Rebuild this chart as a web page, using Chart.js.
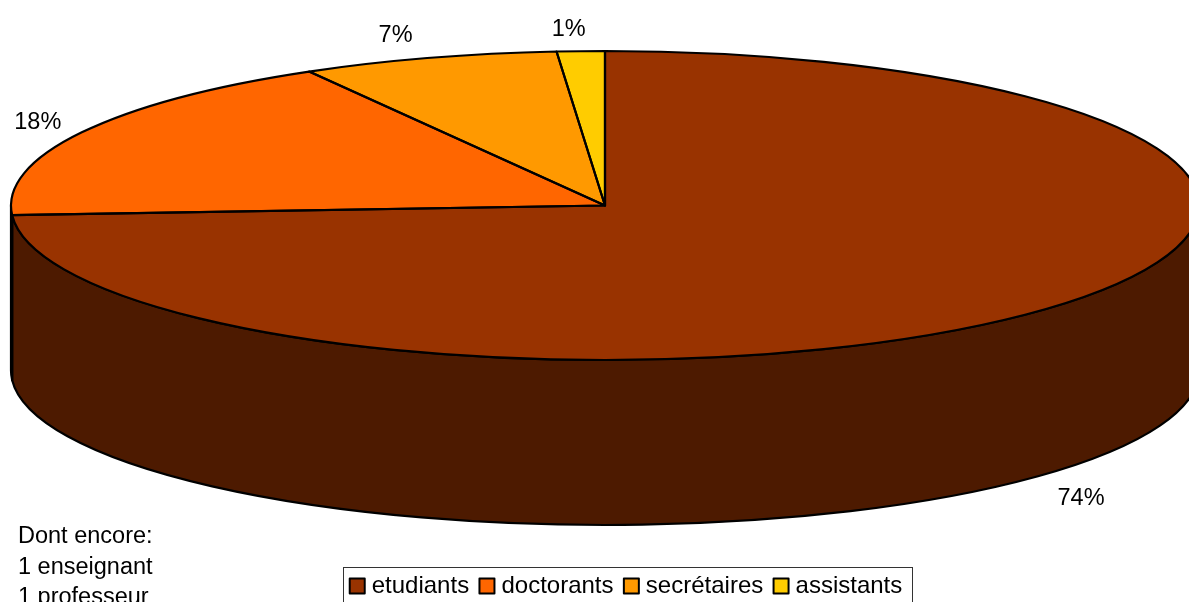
<!DOCTYPE html>
<html><head><meta charset="utf-8">
<script src="https://cdn.jsdelivr.net/npm/chart.js@4"></script>
<style>html,body{margin:0;padding:0;background:#fff;overflow:hidden;width:1189px;height:602px}
#w{width:1189px;height:602px;overflow:hidden}canvas{display:block}</style>
</head><body><div id="w"><canvas id="c" width="1189" height="640"></canvas></div>
<script>
const categories = ['etudiants','doctorants','secrétaires','assistants'];
const values = [74, 17.7, 7, 1.3];
const sliceColors = ['#993300','#FF6600','#FF9900','#FFCC00'];
const wallColors = ['#4D1A00','#803300','#804D00','#806600'];
const noteLines = ['Dont encore:','1 enseignant','1 professeur'];

const FONT = '23.5px "Liberation Sans", Arial, sans-serif';
const G = {cx:605, cy:205.5, rx:594, ry:154.5, depth:165};
const labelOffsets = [[43,187],[-44,-10],[-33,-22],[-12,-22]];

const pie3d = {
  id:'pie3d',
  beforeDatasetsDraw(chart){
    const ctx = chart.ctx, arcs = chart.getDatasetMeta(0).data;
    ctx.save();
    ctx.lineWidth = 2.2; ctx.strokeStyle = '#000'; ctx.lineJoin = 'round';
    arcs.forEach((a,i)=>{
      const s0 = a.startAngle, e0 = a.endAngle;
      for (const k of [0, 2*Math.PI]) {
        const s = Math.max(s0, k), e = Math.min(e0, k+Math.PI);
        if (e <= s) continue;
        ctx.beginPath();
        ctx.ellipse(G.cx, G.cy, G.rx, G.ry, 0, s, e);
        ctx.ellipse(G.cx, G.cy+G.depth, G.rx, G.ry, 0, e, s, true);
        ctx.closePath();
        ctx.fillStyle = wallColors[i];
        ctx.fill(); ctx.stroke();
      }
    });
    ctx.restore();
    const a0 = arcs[0], r = a0.outerRadius;
    ctx.save();
    ctx.translate(G.cx, G.cy);
    ctx.scale(G.rx/r, G.ry/r);
    ctx.translate(-a0.x, -a0.y);
  },
  afterDatasetsDraw(chart){
    const ctx = chart.ctx, arcs = chart.getDatasetMeta(0).data;
    ctx.restore();
    ctx.save();
    ctx.lineWidth = 2.2; ctx.strokeStyle = '#000'; ctx.lineJoin = 'round';
    arcs.forEach(a=>{
      ctx.beginPath();
      ctx.moveTo(G.cx, G.cy);
      ctx.ellipse(G.cx, G.cy, G.rx, G.ry, 0, a.startAngle, a.endAngle);
      ctx.closePath();
      ctx.stroke();
    });
    ctx.restore();
  },
  afterDraw(chart){
    const ctx = chart.ctx, arcs = chart.getDatasetMeta(0).data;
    const total = values.reduce((p,v)=>p+v,0);
    ctx.save();
    ctx.font = FONT; ctx.fillStyle = '#000';
    ctx.textAlign = 'center'; ctx.textBaseline = 'middle';
    arcs.forEach((a,i)=>{
      const m = (a.startAngle+a.endAngle)/2;
      const x = G.cx + G.rx*Math.cos(m) + labelOffsets[i][0];
      const y = G.cy + G.ry*Math.sin(m) + labelOffsets[i][1];
      ctx.fillText(Math.round(values[i]/total*100)+'%', x, y);
    });
    ctx.textAlign = 'left';
    noteLines.forEach((t,i)=>ctx.fillText(t, 18, 537+i*30.5));
    ctx.strokeStyle = '#333'; ctx.lineWidth = 1;
    ctx.strokeRect(343.5, 567.5, 569, 60);
    ctx.restore();
  }
};

new Chart(document.getElementById('c'), {
  type:'pie',
  data:{labels:categories, datasets:[{data:values, backgroundColor:sliceColors, borderWidth:0}]},
  plugins:[pie3d],
  options:{
    responsive:false, animation:false, events:[],
    layout:{padding:{left:68, right:0, top:0, bottom:32}},
    plugins:{
      tooltip:{enabled:false},
      legend:{
        position:'bottom', align:'center',
        labels:{
          usePointStyle:true, boxWidth:5, boxHeight:15, padding:15.33, color:'#000',
          font:{family:'"Liberation Sans", Arial, sans-serif', size:24},
          generateLabels:()=>categories.map((t,i)=>({
            text:t, fillStyle:sliceColors[i], strokeStyle:'#000', lineWidth:2,
            lineJoin:'round', pointStyle:'rect', index:i, fontColor:'#000'
          }))
        }
      }
    }
  }
});
</script></body></html>
